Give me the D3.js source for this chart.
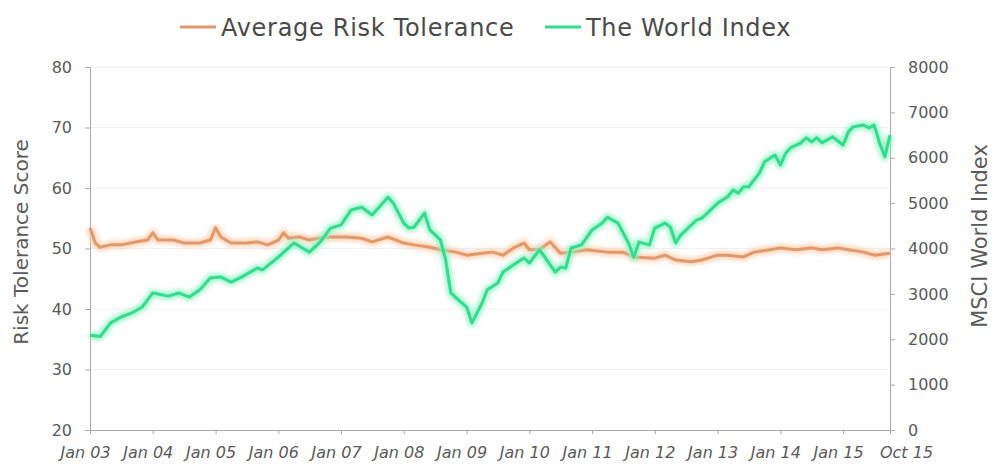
<!DOCTYPE html>
<html><head><meta charset="utf-8">
<script src="https://cdn.jsdelivr.net/npm/d3@7"></script>
<style>body{margin:0;background:#fff;} text{font-family:"DejaVu Sans",sans-serif;}</style>
</head><body><svg id="c" width="992" height="466"></svg>
<script>
const worldDates = ["2003-01","2003-03","2003-05","2003-07","2003-09","2003-11","2004-01","2004-04","2004-06","2004-08","2004-10","2004-12","2005-02","2005-04","2005-06","2005-09","2005-10","2006-01","2006-04","2006-07","2006-09","2006-11","2007-01","2007-03","2007-05","2007-07","2007-10","2007-11","2008-01","2008-02","2008-03","2008-05","2008-06","2008-08","2008-09","2008-10","2008-11","2009-01","2009-02","2009-04","2009-05","2009-07","2009-08","2009-10","2009-12","2010-01","2010-03","2010-04","2010-06","2010-07","2010-08","2010-09","2010-11","2011-01","2011-03","2011-04","2011-06","2011-08","2011-09","2011-10","2011-12","2012-01","2012-03","2012-04","2012-05","2012-06","2012-09","2012-10","2012-11","2013-01","2013-03","2013-04","2013-05","2013-06","2013-07","2013-09","2013-10","2013-12","2014-01","2014-02","2014-03","2014-05","2014-06","2014-07","2014-08","2014-09","2014-11","2015-01","2015-02","2015-03","2015-05","2015-06","2015-07","2015-08","2015-09","2015-10"];
const worldValues = [2090,2060,2360,2490,2580,2710,3020,2950,3020,2930,3090,3350,3370,3260,3370,3570,3530,3810,4120,3920,4140,4450,4520,4850,4910,4740,5130,5000,4560,4450,4470,4780,4410,4190,3750,3020,2910,2710,2360,2800,3090,3240,3480,3640,3790,3680,3970,3810,3480,3590,3570,4010,4080,4410,4560,4690,4560,4120,3810,4140,4080,4450,4560,4470,4120,4300,4630,4670,4780,5000,5140,5290,5220,5360,5360,5660,5910,6060,5840,6100,6220,6330,6440,6350,6440,6330,6460,6280,6570,6680,6720,6660,6720,6330,6020,6500];
const riskDates = ["2003-01","2003-02","2003-03","2003-05","2003-07","2003-10","2003-12","2004-01","2004-02","2004-05","2004-07","2004-10","2004-12","2005-01","2005-02","2005-04","2005-07","2005-09","2005-11","2006-01","2006-02","2006-03","2006-05","2006-07","2006-10","2007-02","2007-05","2007-07","2007-10","2008-01","2008-03","2008-06","2008-08","2008-11","2009-01","2009-04","2009-06","2009-08","2009-10","2009-12","2010-01","2010-03","2010-05","2010-07","2010-09","2010-12","2011-04","2011-07","2011-09","2012-01","2012-03","2012-05","2012-08","2012-10","2013-01","2013-03","2013-06","2013-08","2013-11","2014-01","2014-04","2014-07","2014-09","2014-12","2015-02","2015-05","2015-07","2015-10"];
const riskValues = [53.4,50.9,50.2,50.6,50.6,51.1,51.4,52.6,51.4,51.4,50.9,50.9,51.4,53.4,51.9,50.9,50.9,51.1,50.6,51.4,52.6,51.7,51.9,51.4,51.9,51.9,51.7,51.1,51.9,50.9,50.6,50.2,49.8,49.4,48.9,49.2,49.4,48.9,50.1,50.9,49.8,49.8,51.1,49.2,49.4,49.8,49.4,49.4,48.6,48.4,48.9,48.1,47.8,48.1,48.9,48.9,48.6,49.4,49.8,50.1,49.8,50.1,49.8,50.1,49.8,49.4,48.9,49.2];
const xTickLabels = ["Jan 03","Jan 04","Jan 05","Jan 06","Jan 07","Jan 08","Jan 09","Jan 10","Jan 11","Jan 12","Jan 13","Jan 14","Jan 15","Oct 15"];
const leftTicks = [20,30,40,50,60,70,80];
const rightTicks = [0,1000,2000,3000,4000,5000,6000,7000,8000];
const legendLabels = ["Average Risk Tolerance","The World Index"];

const parse = d3.timeParse("%Y-%m");
const svg = d3.select("#c");
const x = d3.scaleTime().domain([parse("2003-01"), parse("2015-10")]).range([90, 890]);
const yL = d3.scaleLinear().domain([20,80]).range([430,67]);
const yR = d3.scaleLinear().domain([0,8000]).range([430,67]);

// gridlines
svg.append("g").selectAll("line").data(leftTicks.slice(1)).join("line")
  .attr("x1",90).attr("x2",890).attr("y1",d=>yL(d)).attr("y2",d=>yL(d))
  .attr("stroke","#f0f0f0").attr("stroke-width",1);

const axisColor = "#a8a8a8", textColor = "#5a5a5a";
const tickDates = xTickLabels.map(s => d3.timeParse("%b %y")(s));
const gx = svg.append("g").attr("transform","translate(0,430)")
  .call(d3.axisBottom(x).tickValues(tickDates).tickFormat((d,i)=>xTickLabels[i]).tickSizeOuter(0).tickSize(4).tickPadding(13));
gx.selectAll("text").attr("font-size",16).attr("font-style","italic").attr("fill",textColor)
  .attr("dx",(d,i)=> i===xTickLabels.length-1 ? 16 : -5);
const gl = svg.append("g").attr("transform","translate(90,0)")
  .call(d3.axisLeft(yL).tickValues(leftTicks).tickSizeOuter(0).tickSize(5).tickPadding(13));
gl.selectAll("text").attr("font-size",16).attr("fill",textColor);
const gr = svg.append("g").attr("transform","translate(890,0)")
  .call(d3.axisRight(yR).tickValues(rightTicks).tickFormat(d3.format("d")).tickSizeOuter(0).tickSize(5).tickPadding(13));
gr.selectAll("text").attr("font-size",16).attr("fill",textColor);
[gx,gl,gr].forEach(g=>{g.selectAll("path,line").attr("stroke",axisColor);});

svg.append("text").attr("transform","translate(28,242) rotate(-90)").attr("text-anchor","middle")
  .attr("font-size",20).attr("fill",textColor).text("Risk Tolerance Score");
svg.append("text").attr("transform","translate(987,236) rotate(-90)").attr("text-anchor","middle")
  .attr("font-size",21).attr("fill",textColor).text("MSCI World Index");

const defs = svg.append("defs");
const f = defs.append("filter").attr("id","glow").attr("x","-10%").attr("y","-10%").attr("width","120%").attr("height","120%");
f.append("feGaussianBlur").attr("stdDeviation",2);

const riskData = riskDates.map((d,i)=>({d:parse(d),v:riskValues[i]}));
const worldData = worldDates.map((d,i)=>({d:parse(d),v:worldValues[i]}));
const lineL = d3.line().x(d=>x(d.d)).y(d=>yL(d.v));
const lineR = d3.line().x(d=>x(d.d)).y(d=>yR(d.v));

const orange = "#e2986a", orangeGlow = "#f8cfae";
const green = "#34db8e", greenGlow = "#93f3c6";
function drawLine(data, gen, c, glowC){
  svg.append("path").datum(data).attr("d",gen).attr("fill","none").attr("stroke",glowC)
    .attr("stroke-width",8).attr("filter","url(#glow)").attr("stroke-linejoin","round").attr("opacity",0.85);
  svg.append("path").datum(data).attr("d",gen).attr("fill","none").attr("stroke",c)
    .attr("stroke-width",3).attr("stroke-linejoin","round");
}
drawLine(riskData, lineL, orange, orangeGlow);
drawLine(worldData, lineR, green, greenGlow);

// legend
const leg = [{x:180,c:orange,g:orangeGlow,t:legendLabels[0]},{x:545,c:green,g:greenGlow,t:legendLabels[1]}];
leg.forEach(l=>{
  svg.append("line").attr("x1",l.x).attr("x2",l.x+36).attr("y1",27).attr("y2",27)
    .attr("stroke",l.g).attr("stroke-width",6).attr("filter","url(#glow)");
  svg.append("line").attr("x1",l.x).attr("x2",l.x+36).attr("y1",27).attr("y2",27)
    .attr("stroke",l.c).attr("stroke-width",3);
  svg.append("text").attr("x",l.x+41).attr("y",36).attr("font-size",24).attr("letter-spacing",0.7)
    .attr("fill","#4a4a4a").text(l.t);
});
</script></body></html>
